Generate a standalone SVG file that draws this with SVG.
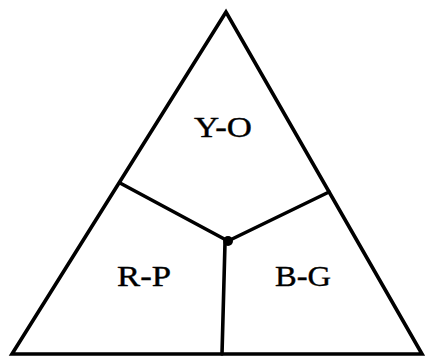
<svg xmlns="http://www.w3.org/2000/svg" width="425" height="358" viewBox="0 0 425 358">
<style>
.ln{stroke:#000;stroke-width:3.6;fill:none;stroke-linejoin:miter;stroke-linecap:round}
.lb{font-family:"Liberation Serif","Times New Roman",serif;font-size:30px;fill:#000;text-anchor:middle;stroke:#000;stroke-width:0.4}
</style>
<rect width="425" height="358" fill="#fff"/>
<g id="triangle"><polygon class="ln" points="226,12 12,354 422,354"/></g>
<g id="connectors">
<line class="ln" x1="120" y1="183" x2="228" y2="241"/>
<line class="ln" x1="329" y1="192" x2="228" y2="241"/>
<line class="ln" x1="225" y1="243" x2="222" y2="354"/>
<circle cx="228" cy="241" r="5" fill="#000"/>
</g>
<g id="node-yo"><text class="lb" x="223" y="137" textLength="58" lengthAdjust="spacingAndGlyphs">Y-O</text></g>
<g id="node-rp"><text class="lb" x="144" y="286" textLength="54" lengthAdjust="spacingAndGlyphs">R-P</text></g>
<g id="node-bg"><text class="lb" x="303" y="286" textLength="56" lengthAdjust="spacingAndGlyphs">B-G</text></g>
</svg>
